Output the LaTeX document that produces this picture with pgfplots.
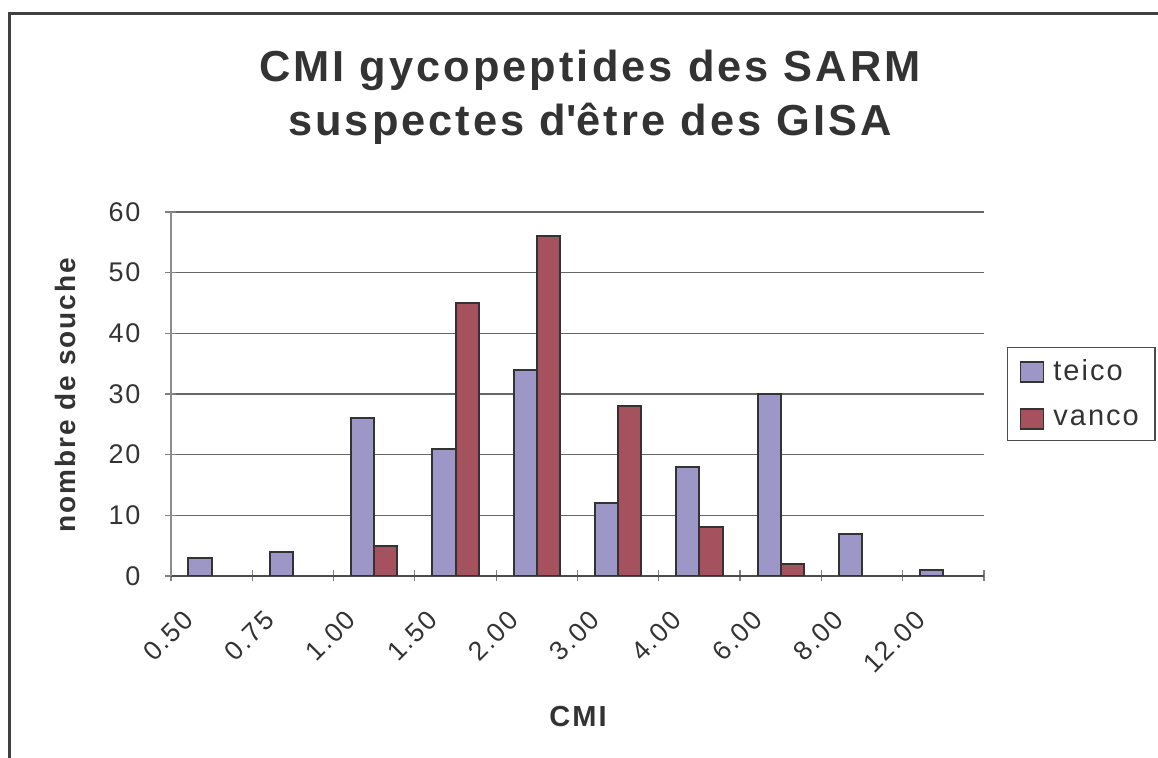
\documentclass[border=0pt]{standalone}
\usepackage{fontspec}
\setmainfont{Liberation Sans}[LetterSpace=7]
\usepackage{pgfplots}
\pgfplotsset{compat=1.18}
\definecolor{teico}{RGB}{157,151,199}
\definecolor{vanco}{RGB}{166,81,94}
\definecolor{txt}{RGB}{51,51,51}
\begin{document}
\begin{tikzpicture}
\useasboundingbox (-85.5pt,-91pt) rectangle (493.5pt,288pt);
\draw[line width=1.3pt,color=black!75] (-80.6pt,-100pt) -- (-80.6pt,281.2pt) -- (520pt,281.2pt);
\begin{axis}[
  scale only axis,
  width=406.5pt, height=182pt,
  ybar=0pt, bar width=11.6pt,
  xmin=-0.5, xmax=9.5, ymin=0, ymax=60,
  ytick={0,10,...,60},
  xtick={0,...,9},
  xticklabels={0.50,0.75,1.00,1.50,2.00,3.00,4.00,6.00,8.00,12.00},
  minor xtick={-0.5,0.5,...,9.5},
  major x tick style={draw=none},
  minor x tick style={black!50,line width=0.6pt},
  major y tick style={black!50,line width=0.6pt},
  tick align=outside,
  major tick length=5.5pt, minor tick length=5.5pt,
  axis x line=bottom, axis y line=left,
  axis line style={-},
  every outer x axis line/.append style={-},
  every outer y axis line/.append style={-},
  x axis line style={black!70,line width=0.7pt},
  y axis line style={black!45,line width=0.7pt},
  ymajorgrids,
  grid style={black!60,line width=0.6pt},
  /pgf/number format/assume math mode=true,
  yticklabel style={font=\fontsize{13.5}{16}\selectfont,text=txt,xshift=-9pt},
  xticklabel style={font=\fontsize{13.3}{16}\selectfont,text=txt,
    inner sep=0pt,xshift=-15pt,yshift=-13.5pt,rotate=45,anchor=north east},
  xlabel={CMI},
  xlabel style={at={(axis description cs:0.5006,-0.385)},anchor=center,
    font=\fontsize{14.5}{17}\selectfont\bfseries,text=txt},
  ylabel={nombre de souche},
  ylabel style={at={(axis description cs:-0.130,0.497)},anchor=center,
    font=\fontsize{14}{17}\selectfont\bfseries,text=txt},
  legend style={at={(1.0283,0.6291)},anchor=north west,draw=black!70,
    line width=0.6pt,font=\fontsize{14.5}{17}\selectfont,text=txt,
    row sep=9pt,inner xsep=6pt,inner ysep=4pt,
    /tikz/every odd column/.append style={column sep=2.5pt}},
  legend cell align=left,
  legend image code/.code={\draw[#1,line width=0.9pt] (0pt,-5pt) rectangle (11.5pt,5pt);},
]
\addplot[fill=teico,draw=black!80,line width=1pt] coordinates {
  (0,3) (1,4) (2,26) (3,21) (4,34) (5,12) (6,18) (7,30) (8,7) (9,1)};
\addplot[fill=vanco,draw=black!80,line width=1pt] coordinates {
  (2,5) (3,45) (4,56) (5,28) (6,8) (7,2)};
\legend{teico,vanco}
\end{axis}
\node[anchor=base,font=\fontsize{21.7}{27}\selectfont\bfseries,text=txt]
  at (209.5pt,247pt) {CMI gycopeptides des SARM};
\node[anchor=base,font=\fontsize{21.7}{27}\selectfont\bfseries,text=txt]
  at (209.5pt,220pt) {suspectes d\textquotesingle être des GISA};
\end{tikzpicture}
\end{document}
